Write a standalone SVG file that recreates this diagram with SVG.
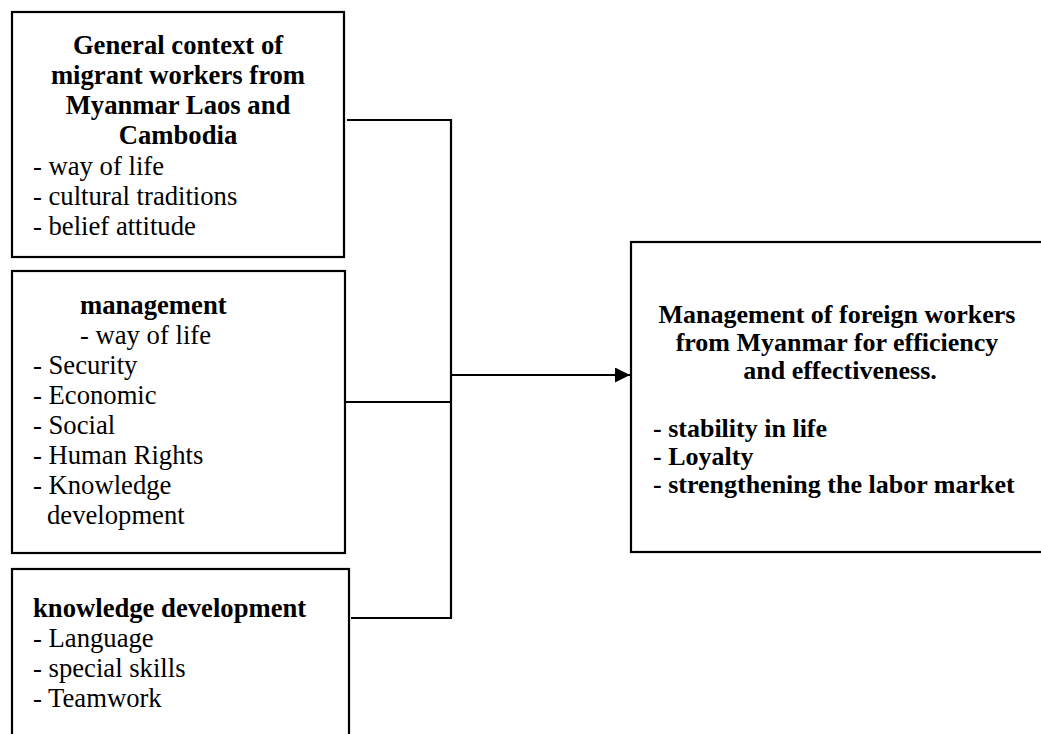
<svg xmlns="http://www.w3.org/2000/svg" width="1041" height="734" viewBox="0 0 1041 734">
<defs>
<style>
.box{fill:#fff;stroke:#000;stroke-width:2.2}
.t{font-family:"Liberation Serif","Times New Roman",serif;font-size:26.67px;fill:#000}
.s{font-size:26px}
.b{font-weight:bold}
.c{text-anchor:middle}
.ln{stroke:#000;stroke-width:2.2;fill:none}
</style>
<marker id="arr" markerWidth="15" markerHeight="15" refX="15" refY="7.5" orient="auto" markerUnits="userSpaceOnUse">
<path d="M0,0 L15,7.5 L0,15 Z" fill="#000"/>
</marker>
</defs>
<rect width="1041" height="734" fill="#fff"/>
<g id="node-context">
<rect class="box" x="12" y="12" width="332" height="245"/>
<text class="t b c" x="178" y="54">General context of</text>
<text class="t b c" x="178" y="84">migrant workers from</text>
<text class="t b c" x="178" y="114">Myanmar Laos and</text>
<text class="t b c" x="178" y="144">Cambodia</text>
<text class="t" x="33" y="175">- way of life</text>
<text class="t" x="33" y="205">- cultural traditions</text>
<text class="t" x="33" y="235">- belief attitude</text>
</g>
<g id="node-management">
<rect class="box" x="12" y="271" width="333" height="282"/>
<text class="t b" x="80" y="314">management</text>
<text class="t" x="80" y="344">- way of life</text>
<text class="t" x="33" y="374">- Security</text>
<text class="t" x="33" y="404">- Economic</text>
<text class="t" x="33" y="434">- Social</text>
<text class="t" x="33" y="464">- Human Rights</text>
<text class="t" x="33" y="494">- Knowledge</text>
<text class="t" x="47" y="524">development</text>
</g>
<g id="node-knowledge">
<rect class="box" x="12" y="569" width="337" height="180"/>
<text class="t b" x="33" y="617">knowledge development</text>
<text class="t" x="33" y="647">- Language</text>
<text class="t" x="33" y="677">- special skills</text>
<text class="t" x="33" y="707">- Teamwork</text>
</g>
<g id="node-outcome">
<rect class="box" x="631" y="242" width="420" height="310"/>
<text class="t s b c" x="837" y="323">Management of foreign workers</text>
<text class="t s b c" x="837" y="351">from Myanmar for efficiency</text>
<text class="t s b c" x="840" y="379">and effectiveness.</text>
<text class="t s b" x="653" y="437">- stability in life</text>
<text class="t s b" x="653" y="465">- Loyalty</text>
<text class="t s b" x="653" y="493">- strengthening the labor market</text>
</g>
<g id="connectors">
<path class="ln" d="M347,120 H451 V618 H351"/>
<path class="ln" d="M346,402 H451"/>
<path class="ln" d="M451,375 H630" marker-end="url(#arr)"/>
</g>
</svg>
